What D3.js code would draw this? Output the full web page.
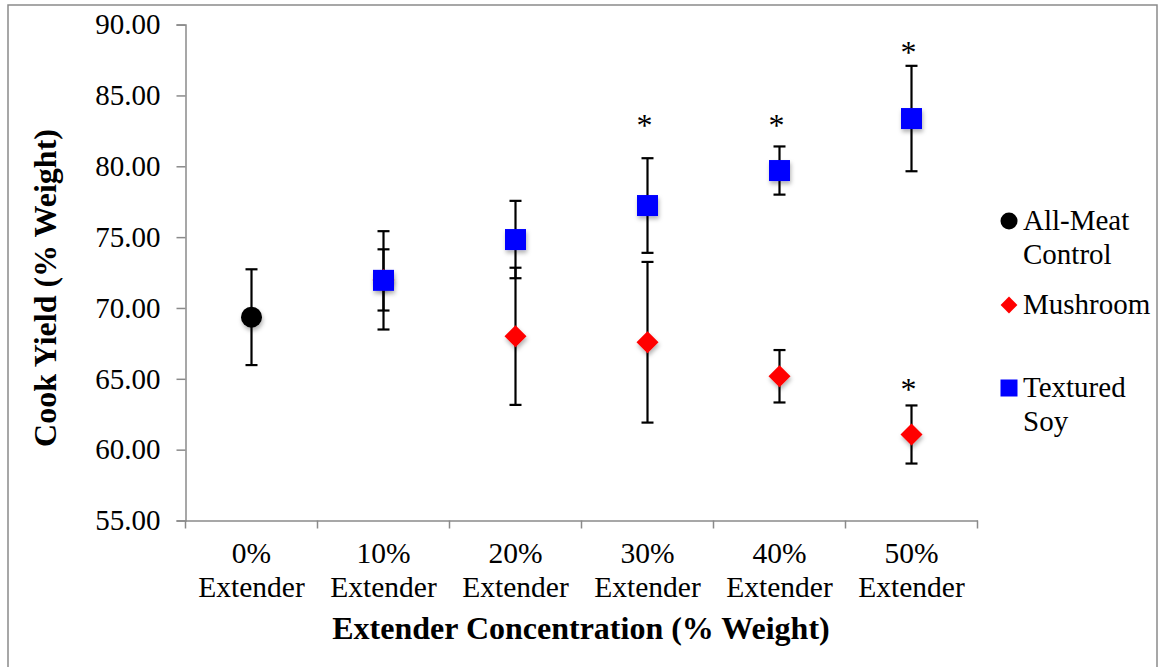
<!DOCTYPE html>
<html>
<head>
<meta charset="utf-8">
<script src="https://cdn.jsdelivr.net/npm/d3@7"></script>
<style>
  html, body { margin: 0; padding: 0; background: #fff; }
  svg { display: block; }
</style>
</head>
<body>
<svg id="chart" width="1160" height="667" font-family="Liberation Serif, serif"></svg>
<script>
// ---- Data ----
const categories = ["0%|Extender", "10%|Extender", "20%|Extender", "30%|Extender", "40%|Extender", "50%|Extender"];
const yTicks = [55, 60, 65, 70, 75, 80, 85, 90];

const controlValues = [69.35, null, null, null, null, null];
const controlErrors = [3.38, null, null, null, null, null];

const mushroomValues = [null, 71.98, 68.0, 67.58, 65.18, 61.07];
const mushroomErrors = [null, 2.16, 4.84, 5.67, 1.85, 2.05];

const soyValues = [null, 71.95, 74.83, 77.23, 79.70, 83.37];
const soyErrors = [null, 3.47, 2.73, 3.34, 1.70, 3.72];

// significance asterisks: [category index, y value where the star sits]
const starCategories = [3, 4, 5, 5];
const starValues = [83.3, 83.3, 88.4, 64.6];

const seriesNames = ["All-Meat|Control", "Mushroom", "Textured|Soy"];

// ---- Layout ----
const FONT = '"Liberation Serif", serif';
const svg = d3.select("#chart");
const axisColor = "#8a8a8a";

const x = d3.scaleBand().domain(categories).range([185.5, 977.5]).padding(0);
const y = d3.scaleLinear().domain([55, 90]).range([520.5, 24.6]);

// outer border
svg.append("rect")
  .attr("x", 8).attr("y", 5).attr("width", 1149).attr("height", 700)
  .attr("fill", "none").attr("stroke", axisColor).attr("stroke-width", 1.5);

// shadow filter
const defs = svg.append("defs");
const f = defs.append("filter").attr("id", "shadow").attr("x", "-50%").attr("y", "-50%").attr("width", "200%").attr("height", "200%");
f.append("feDropShadow").attr("dx", 1).attr("dy", 3).attr("stdDeviation", 2)
  .attr("flood-color", "#000").attr("flood-opacity", 0.3);

function txt(sel, size, bold) {
  return sel.style("font-family", FONT).style("font-size", size + "px")
    .style("font-weight", bold ? "bold" : "normal").attr("fill", "#000");
}

// Y axis
const yAxis = svg.append("g")
  .attr("transform", `translate(${x.range()[0]},0)`)
  .call(d3.axisLeft(y).tickValues(yTicks).tickFormat(d3.format(".2f")).tickSize(9).tickPadding(16));
yAxis.attr("font-family", null);
yAxis.select(".domain").attr("stroke", axisColor).attr("stroke-width", 1.5);
yAxis.selectAll(".tick line").attr("stroke", axisColor).attr("stroke-width", 1.5);
txt(yAxis.selectAll(".tick text"), 29, false);

// X axis
const xAxis = svg.append("g")
  .attr("transform", `translate(0,${y(55)})`)
  .call(d3.axisBottom(x).tickSize(0).tickFormat(""));
xAxis.select(".domain").attr("stroke", axisColor).attr("stroke-width", 1.5);
const boundaries = categories.map(c => x(c)).concat([x.range()[1]]);
xAxis.selectAll(".bound").data(boundaries).enter().append("line")
  .attr("x1", d => d).attr("x2", d => d).attr("y1", 0).attr("y2", 8)
  .attr("stroke", axisColor).attr("stroke-width", 1.5);

// category labels
const catLabels = txt(svg.append("g").selectAll("text").data(categories).enter().append("text")
  .attr("text-anchor", "middle"), 29.5, false);
catLabels.each(function(d) {
  const parts = d.split("|");
  const t = d3.select(this);
  const cx = x(d) + x.bandwidth() / 2;
  t.append("tspan").attr("x", cx).attr("y", 563).text(parts[0]);
  t.append("tspan").attr("x", cx).attr("y", 597).text(parts[1]);
});

// axis titles
txt(svg.append("text").attr("x", 581).attr("y", 639).attr("text-anchor", "middle"), 32, true)
  .text("Extender Concentration (% Weight)");
txt(svg.append("text").attr("transform", "translate(56,288) rotate(-90)").attr("text-anchor", "middle"), 32, true)
  .text("Cook Yield (% Weight)");

// series assembly
function toPoints(vals, errs) {
  return vals.map((v, i) => ({ cat: categories[i], v: v, e: errs[i] })).filter(d => d.v !== null);
}
const series = [
  { name: seriesNames[0], shape: "circle", color: "#000000", pts: toPoints(controlValues, controlErrors) },
  { name: seriesNames[1], shape: "diamond", color: "#ff0000", pts: toPoints(mushroomValues, mushroomErrors) },
  { name: seriesNames[2], shape: "square", color: "#0000ff", pts: toPoints(soyValues, soyErrors) }
];

// error bars
const errG = svg.append("g").attr("stroke", "#000").attr("stroke-width", 2.2);
series.forEach(s => {
  s.pts.forEach(p => {
    const cx = x(p.cat) + x.bandwidth() / 2;
    const y1 = y(p.v + p.e), y2 = y(p.v - p.e);
    errG.append("line").attr("x1", cx).attr("x2", cx).attr("y1", y1).attr("y2", y2);
    errG.append("line").attr("x1", cx - 6).attr("x2", cx + 6).attr("y1", y1).attr("y2", y1);
    errG.append("line").attr("x1", cx - 6).attr("x2", cx + 6).attr("y1", y2).attr("y2", y2);
  });
});

function drawMarker(g, shape, color, cx, cy, size) {
  const h = size / 2;
  if (shape === "circle") {
    return g.append("circle").attr("cx", cx).attr("cy", cy).attr("r", h).attr("fill", color);
  } else if (shape === "square") {
    return g.append("rect").attr("x", cx - h).attr("y", cy - h).attr("width", size).attr("height", size).attr("fill", color);
  } else {
    const d = h * 1.05;
    return g.append("path").attr("d", `M${cx},${cy - d}L${cx + d},${cy}L${cx},${cy + d}L${cx - d},${cy}Z`).attr("fill", color);
  }
}

// markers
const markG = svg.append("g");
series.forEach(s => {
  s.pts.forEach(p => {
    const cx = x(p.cat) + x.bandwidth() / 2;
    drawMarker(markG, s.shape, s.color, cx, y(p.v), 21).attr("filter", "url(#shadow)");
  });
});

// asterisks
txt(svg.append("g").selectAll("text").data(starCategories).enter().append("text")
  .attr("x", d => x(categories[d]) + x.bandwidth() / 2 - 3)
  .attr("y", (d, i) => y(starValues[i]) + 16)
  .attr("text-anchor", "middle"), 32, false)
  .text("*");

// legend
const legendY = [221, 305, 388];
const legend = svg.append("g");
series.forEach((s, i) => {
  drawMarker(legend, s.shape, s.color, 1009, legendY[i], s.shape === "diamond" ? 16 : 17);
  const lines = s.name.split("|");
  const t = txt(legend.append("text"), 29, false);
  lines.forEach((ln, j) => {
    t.append("tspan").attr("x", 1023).attr("y", legendY[i] + 9 + j * 34).text(ln);
  });
});
</script>
</body>
</html>
